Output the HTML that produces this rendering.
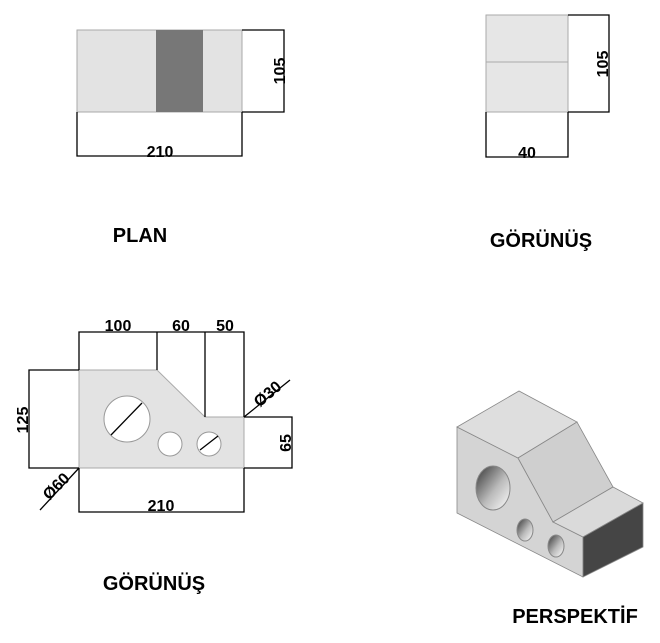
<!DOCTYPE html>
<html><head><meta charset="utf-8"><style>
html,body{margin:0;padding:0;background:#fff}
svg{display:block}
text{font-family:"Liberation Sans",Arial,sans-serif;font-weight:bold;fill:#000}
</style></head><body>
<svg width="660" height="643" viewBox="0 0 660 643" xmlns="http://www.w3.org/2000/svg">
<!-- PLAN -->
<rect x="77" y="30" width="165" height="82" fill="#e3e3e3" stroke="#aaa" stroke-width="1"/>
<rect x="156" y="30" width="47" height="82" fill="#777"/>
<g stroke="#000" stroke-width="1.3" fill="none">
<polyline points="242,30 284,30 284,112 242,112"/>
<polyline points="77,112 77,156 242,156 242,112"/>
</g>
<text x="160" y="157" font-size="16" text-anchor="middle">210</text>
<text transform="translate(285,71) rotate(-90)" font-size="16" text-anchor="middle">105</text>
<text x="140" y="242" font-size="20" text-anchor="middle">PLAN</text>

<!-- SIDE -->
<rect x="486" y="15" width="82" height="97" fill="#e6e6e6" stroke="#aaa" stroke-width="1"/>
<line x1="486" y1="62" x2="568" y2="62" stroke="#aaa"/>
<g stroke="#000" stroke-width="1.3" fill="none">
<polyline points="568,15 609,15 609,112 568,112"/>
<polyline points="486,112 486,157 568,157 568,112"/>
</g>
<text x="527" y="158" font-size="16" text-anchor="middle">40</text>
<text transform="translate(608,64) rotate(-90)" font-size="16" text-anchor="middle">105</text>
<text x="541" y="247" font-size="20" text-anchor="middle">GÖRÜNÜŞ</text>

<!-- ELEVATION -->
<polygon points="79,370 157,370 205,417 244,417 244,468 79,468" fill="#e3e3e3" stroke="#aaa"/>
<circle cx="127" cy="419" r="23" fill="#fff" stroke="#999"/>
<circle cx="170" cy="444" r="12" fill="#fff" stroke="#999"/>
<circle cx="209" cy="444" r="12" fill="#fff" stroke="#999"/>
<g stroke="#000" stroke-width="1.3" fill="none">
<polyline points="79,370 79,332 244,332 244,417"/>
<line x1="157" y1="332" x2="157" y2="370"/>
<line x1="205" y1="332" x2="205" y2="417"/>
<polyline points="79,370 29,370 29,468 79,468"/>
<polyline points="244,417 292,417 292,468 244,468"/>
<polyline points="79,468 79,512 244,512 244,468"/>
<line x1="244" y1="417" x2="290" y2="380"/>
<line x1="79" y1="468" x2="40" y2="510"/>
<line x1="111" y1="435" x2="142" y2="403"/>
<line x1="200" y1="450" x2="218" y2="436"/>
</g>
<text x="118" y="331" font-size="16" text-anchor="middle">100</text>
<text x="181" y="331" font-size="16" text-anchor="middle">60</text>
<text x="225" y="331" font-size="16" text-anchor="middle">50</text>
<text x="161" y="511" font-size="16" text-anchor="middle">210</text>
<text transform="translate(28,420) rotate(-90)" font-size="16" text-anchor="middle">125</text>
<text transform="translate(291,443) rotate(-90)" font-size="16" text-anchor="middle">65</text>
<text transform="translate(271,398) rotate(-40)" font-size="16" text-anchor="middle">Ø30</text>
<text transform="translate(60,490) rotate(-45)" font-size="16" text-anchor="middle">Ø60</text>
<text x="154" y="590" font-size="20" text-anchor="middle">GÖRÜNÜŞ</text>

<!-- PERSPECTIVE -->
<g stroke="#888" stroke-width="0.8">
<polygon points="457,427 518,458 553,522 583,537 583,577 457,513" fill="#d4d4d4"/>
<polygon points="457,427 519,391 577,422 518,458" fill="#dedede"/>
<polygon points="518,458 577,422 613,487 553,522" fill="#cfcfcf"/>
<polygon points="553,522 613,487 643,503 583,537" fill="#dadada"/>
<polygon points="583,537 643,503 643,547 583,577" fill="#454545"/>
</g>
<defs><linearGradient id="g" x1="0" y1="0" x2="1" y2="1"><stop offset="0" stop-color="#333"/><stop offset="0.55" stop-color="#bbb"/><stop offset="1" stop-color="#fff"/></linearGradient></defs>
<ellipse cx="493" cy="488" rx="17" ry="22" fill="url(#g)" stroke="#888"/>
<ellipse cx="525" cy="530" rx="8" ry="11" fill="url(#g)" stroke="#888"/>
<ellipse cx="556" cy="546" rx="8" ry="11" fill="url(#g)" stroke="#888"/>
<text x="575" y="623" font-size="20" text-anchor="middle">PERSPEKTİF</text>
</svg>
</body></html>
